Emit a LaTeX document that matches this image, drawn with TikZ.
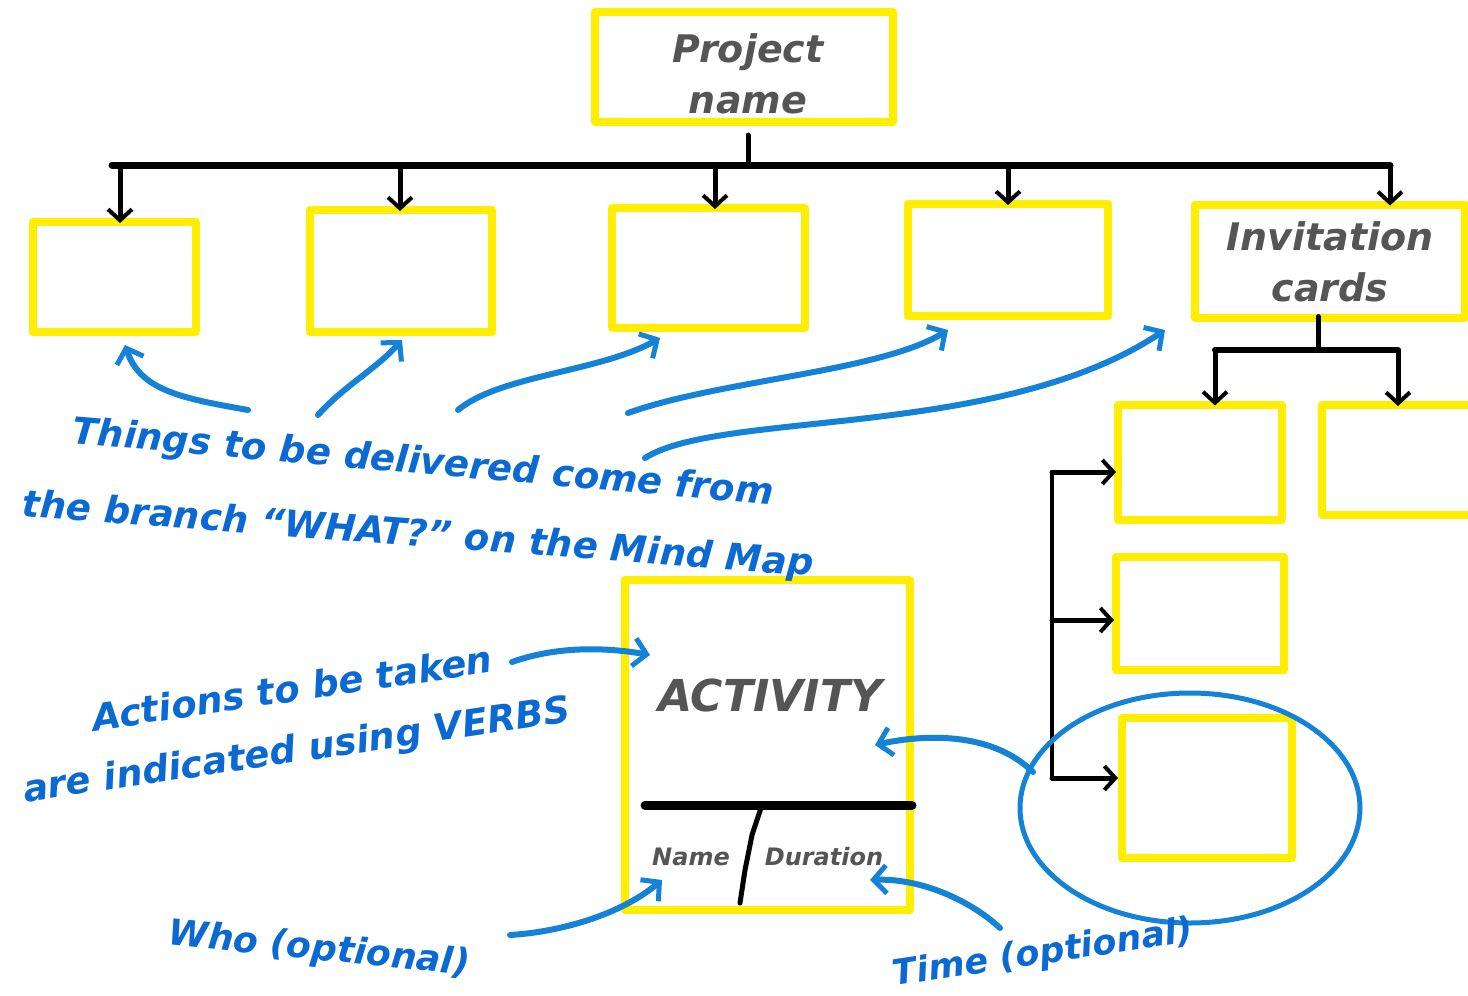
\documentclass[tikz,border=0pt]{standalone}
\usepackage{fontspec}
\newfontfamily\hand{DejaVu Sans}
\usetikzlibrary{arrows.meta,shapes.geometric}
\definecolor{hlyellow}{RGB}{255,238,0}
\definecolor{penblue}{RGB}{20,130,215}
\definecolor{txtblue}{RGB}{10,105,210}
\definecolor{txtgray}{RGB}{85,85,85}
\tikzset{
  ybox/.style={draw=hlyellow, line width=8pt, inner sep=0pt, line join=round},
  blk/.style={draw=black, line width=5pt, line cap=round, line join=round},
  barrow/.style={blk, -{Straight Barb[length=11pt,width=24pt,line width=4pt]}},
  blarrow/.style={draw=penblue, line width=6pt, line cap=round, -{Straight Barb[length=13pt,width=28pt,line width=5pt]}},
  gtext/.style={text=txtgray, font=\hand\bfseries\itshape\fontsize{38}{51}\selectfont, align=center},
  btext/.style={text=txtblue, font=\hand\bfseries\itshape\fontsize{37}{42}\selectfont, inner sep=1pt},
}
\begin{document}
\begin{tikzpicture}[x=1pt,y=-1pt]
\useasboundingbox[fill=white] (0,0) rectangle (1468,996);
% yellow boxes
\node[ybox, minimum width=298pt, minimum height=110pt] (pn) at (744,67) {};
\node[gtext] (pnt) at (748,74) {Project\\name};
\node[ybox, minimum width=163pt, minimum height=110pt] (b1) at (114,277) {};
\node[ybox, minimum width=182pt, minimum height=122pt] (b2) at (401,271) {};
\node[ybox, minimum width=193pt, minimum height=120pt] (b3) at (708,268) {};
\node[ybox, minimum width=200pt, minimum height=112pt] (b4) at (1008,260) {};
\node[ybox, minimum width=270pt, minimum height=113pt] (inv) at (1330,261) {};
\node[gtext] (invt) at (1330,262) {Invitation\\cards};
\node[ybox, minimum width=164pt, minimum height=115pt] (s1) at (1200,462) {};
\node[ybox, minimum width=170pt, minimum height=110pt] (s2) at (1407,460) {};
\node[ybox, minimum width=168pt, minimum height=113pt] (s3) at (1200,613) {};
\node[ybox, minimum width=170pt, minimum height=140pt] (s4) at (1207,788) {};
\node[ybox, minimum width=285pt, minimum height=330pt] (act) at (767,745) {};
\node[gtext, font=\hand\bfseries\itshape\fontsize{44}{50}\selectfont] (actt) at (770,695) {ACTIVITY};
\node[gtext, font=\hand\bfseries\itshape\fontsize{24}{28}\selectfont] (nm) at (691,857) {Name};
\node[gtext, font=\hand\bfseries\itshape\fontsize{24}{28}\selectfont] (du) at (824,857) {Duration};
% activity dividers
\coordinate (dl) at (645,805);
\coordinate (dr) at (912,805);
\coordinate (dm) at (762,805);
\coordinate (db) at (740,903);
\draw[blk, line width=9pt] (dl) -- (dr);
\draw[blk] (dm) -- (752,835) -- (745,870) -- (db);
% main tree
\coordinate (busL) at (112,165);
\coordinate (busR) at (1390,165);
\coordinate (busM) at (748,165);
\draw[blk, line width=7pt] (busL) -- (busR);
\draw[blk] (748,135) -- (busM);
\foreach \x/\b in {120/b1, 400/b2, 715/b3, 1008/b4, 1390/inv}{
  \coordinate (t\b) at (\x,165);
  \draw[barrow] (t\b) -- ([yshift=-5pt]t\b |- \b.north);
}
% invitation sub tree
\coordinate (iv) at (1318,350);
\coordinate (ivL) at (1215,350);
\coordinate (ivR) at (1398,350);
\draw[blk] ([yshift=5pt]inv.south -| iv) -- (iv);
\draw[blk, line width=6pt] (ivL) -- (ivR);
\draw[barrow] (ivL) -- ([yshift=-5pt]ivL |- s1.north);
\draw[barrow] (ivR) -- ([yshift=-5pt]ivR |- s2.north);
% left bracket
\coordinate (vt) at (1052,472);
\coordinate (vm) at (1052,620);
\coordinate (vb) at (1052,778);
\draw[blk, line width=4pt] (vt) -- (vb);
\draw[barrow] (vt) -- ([xshift=2pt]vt -| s1.west);
\draw[barrow] (vm) -- ([xshift=2pt]vm -| s3.west);
\draw[barrow] (vb) -- ([xshift=0pt]vb -| s4.west);
% blue ellipse
\node[draw=penblue, line width=5pt, ellipse, minimum width=340pt, minimum height=230pt] (ell) at (1190,808) {};
% blue texts
\node[btext, rotate=-5] (tx1) at (423,464) {Things to be delivered come from};
\node[btext, rotate=-4.3] (tx2) at (418,536) {the branch “WHAT?” on the Mind Map};
\node[btext, rotate=8.4] (tx3) at (292,688) {Actions to be taken};
\node[btext, rotate=8.4] (tx4) at (297,752) {are indicated using VERBS};
\node[btext, font=\hand\bfseries\itshape\fontsize{36}{42}\selectfont, rotate=-5.8] (tx5) at (319,950) {Who (optional)};
\node[btext, font=\hand\bfseries\itshape\fontsize{35}{42}\selectfont, rotate=8.5] (tx6) at (1043,954) {Time (optional)};
% blue arrows
\coordinate (a1s) at (248,410); \coordinate (a1e) at (125,345);
\coordinate (a2s) at (318,415); \coordinate (a2e) at (402,340);
\coordinate (a3s) at (458,410); \coordinate (a3e) at (660,338);
\coordinate (a4s) at (628,413); \coordinate (a4e) at (948,330);
\coordinate (a5s) at (645,458); \coordinate (a5e) at (1165,330);
\coordinate (a6s) at (512,662); \coordinate (a6e) at (650,655);
\coordinate (a7s) at (1033,772); \coordinate (a7e) at (875,745);
\coordinate (a8s) at (510,935); \coordinate (a8e) at (662,880);
\coordinate (a9s) at (1000,928); \coordinate (a9e) at (870,880);
\draw[blarrow] (a1s) .. controls (180,398) and (140,390) .. (a1e);
\draw[blarrow] (a2s) .. controls (345,385) and (375,370) .. (a2e);
\draw[blarrow] (a3s) .. controls (500,375) and (600,372) .. (a3e);
\draw[blarrow] (a4s) .. controls (720,380) and (880,372) .. (a4e);
\draw[blarrow] (a5s) .. controls (720,410) and (1000,440) .. (a5e);
\draw[blarrow] (a6s) .. controls (560,645) and (610,648) .. (a6e);
\draw[blarrow] (a7s) .. controls (990,730) and (920,735) .. (a7e);
\draw[blarrow] (a8s) .. controls (560,932) and (620,915) .. (a8e);
\draw[blarrow] (a9s) .. controls (970,900) and (920,878) .. (a9e);
\end{tikzpicture}
\end{document}
